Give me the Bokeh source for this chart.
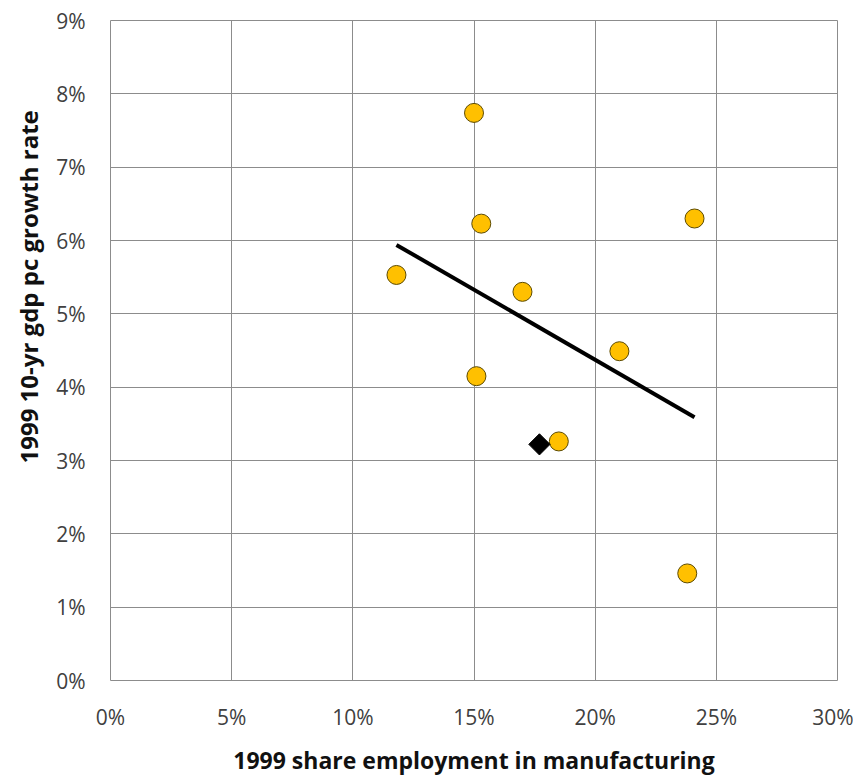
import math
from bokeh.plotting import figure
from bokeh.models import ColumnDataSource, FixedTicker, NumeralTickFormatter, Range1d, Title
from bokeh.embed import file_html
from bokeh.resources import INLINE

# Data (fractions)
mfg_share = [0.150, 0.153, 0.241, 0.118, 0.170, 0.210, 0.151, 0.185, 0.238]
gdp_growth = [0.0774, 0.0623, 0.0630, 0.0553, 0.0530, 0.0449, 0.0415, 0.0326, 0.0146]
highlight_x = [0.177]
highlight_y = [0.0322]
trend_x = [0.118, 0.241]
trend_y = [0.0594, 0.0359]
x_ticks = [0.0, 0.05, 0.10, 0.15, 0.20, 0.25, 0.30]
y_ticks = [0.0, 0.01, 0.02, 0.03, 0.04, 0.05, 0.06, 0.07, 0.08, 0.09]

FONT = "Open Sans"
GRID = "#8c8c8c"

p = figure(width=853, height=778, output_backend="svg", toolbar_location=None,
           x_range=Range1d(0, 0.30), y_range=Range1d(0, 0.09),
           min_border_left=110, min_border_right=16, min_border_top=20, min_border_bottom=98)

p.outline_line_color = GRID
p.outline_line_width = 1
p.background_fill_color = "white"
p.border_fill_color = "white"

for ax in (p.xaxis[0], p.yaxis[0]):
    ax.axis_line_color = None
    ax.major_tick_line_color = None
    ax.minor_tick_line_color = None
    ax.major_tick_in = 0
    ax.major_tick_out = 0
    ax.major_label_text_font = FONT
    ax.major_label_text_font_size = "21px"
    ax.major_label_text_color = "#404040"
    ax.axis_label_text_font = FONT
    ax.axis_label_text_font_style = "bold"
    ax.axis_label_text_font_size = "23px"
    ax.axis_label_text_color = "#111111"
    ax.formatter = NumeralTickFormatter(format="0%")

p.xaxis[0].ticker = FixedTicker(ticks=x_ticks)
p.yaxis[0].ticker = FixedTicker(ticks=y_ticks)
p.xaxis[0].major_label_standoff = 22
p.yaxis[0].major_label_standoff = 25
p.xaxis[0].axis_label = "1999 share employment in manufacturing"
p.xaxis[0].axis_label_standoff = 10

ytitle = Title(text="1999 10-yr gdp pc growth rate", align="left", offset=217,
               text_font=FONT, text_font_size="24px", text_font_style="bold",
               text_color="#111111", standoff=17)
p.add_layout(ytitle, "left")

p.xgrid.ticker = FixedTicker(ticks=x_ticks)
p.ygrid.ticker = FixedTicker(ticks=y_ticks)
p.xgrid.grid_line_color = GRID
p.ygrid.grid_line_color = GRID
p.xgrid.grid_line_width = 1
p.ygrid.grid_line_width = 1

p.line(trend_x, trend_y, line_color="black", line_width=4)

src = ColumnDataSource(dict(x=mfg_share, y=gdp_growth))
p.scatter("x", "y", source=src, marker="circle", size=19,
          fill_color="#FFC000", line_color="#5c4a00", line_width=1)

p.scatter(highlight_x, highlight_y, marker="square", size=15, angle=math.pi / 4,
          fill_color="black", line_color="black")

open("out.html", "w").write(file_html(p, INLINE))
